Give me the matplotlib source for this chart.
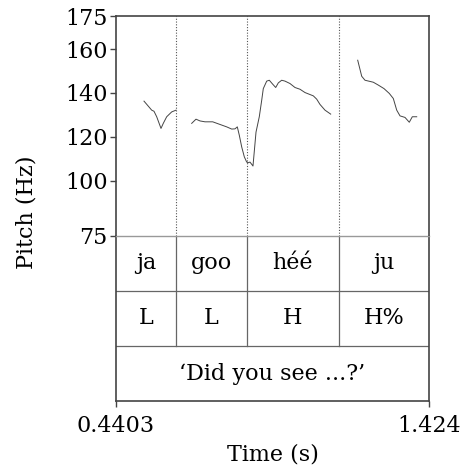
import matplotlib
matplotlib.use("Agg")
import matplotlib.pyplot as plt

plt.rcParams["font.family"] = ["DejaVu Serif"]
plt.rcParams["font.size"] = 16

# time range and pitch range
t_start, t_end = 0.4403, 1.424
f_min, f_max = 75, 175
y_ticks = [75, 100, 120, 140, 160, 175]

# pitch contour, split where the tracker lost voicing
seg1_t = [0.5283, 0.5525, 0.5597, 0.5682, 0.5817, 0.5889, 0.5996, 0.6153, 0.6289]
seg1_f = [136.3, 132.2, 131.7, 129.2, 123.9, 126.2, 129.2, 131.4, 132.2]

seg2_t = [0.6782, 0.6917, 0.7043, 0.7200, 0.7442, 0.7671, 0.7882, 0.8039, 0.8143,
          0.8215, 0.8278, 0.8353, 0.8435, 0.8510, 0.8561, 0.8614, 0.8708, 0.8803,
          0.8906, 0.8982, 0.9032, 0.9139, 0.9221, 0.9328, 0.9422, 0.9504, 0.9610,
          0.9714, 0.9871, 1.0028, 1.0186, 1.0343, 1.0604, 1.0710, 1.0814, 1.0971,
          1.1150]
seg2_f = [126.2, 128.1, 127.3, 126.9, 126.9, 125.7, 124.6, 123.6, 123.7,
          124.6, 120.8, 115.5, 111.0, 108.6, 108.3, 108.6, 106.8, 122.2,
          129.2, 136.7, 142.0, 145.4, 145.8, 144.0, 142.5, 144.6, 145.8,
          145.4, 144.3, 142.5, 141.7, 140.2, 138.7, 137.2, 134.8, 132.2,
          130.4]

seg3_t = [1.1999, 1.2125, 1.2228, 1.2489, 1.2646, 1.2825, 1.2992, 1.3118, 1.3225,
          1.3328, 1.3485, 1.3620, 1.3715, 1.3853]
seg3_f = [154.9, 147.6, 145.8, 144.9, 143.6, 142.0, 139.8, 137.5, 132.2,
          129.6, 128.9, 126.7, 129.2, 129.2]

# annotation tiers
bounds = [0.6289, 0.852, 1.141]
words = ["ja", "goo", "héé", "ju"]
tones = ["L", "L", "H", "H%"]
gloss = "‘Did you see ...?’"

frame = "#444444"

fig = plt.figure(figsize=(4.64, 4.71), dpi=100)
ax = fig.add_axes([0.25, 0.499, 0.6746, 0.467])
tx = fig.add_axes([0.25, 0.1486, 0.6746, 0.3504], sharex=ax)

for ts, fs in [(seg1_t, seg1_f), (seg2_t, seg2_f), (seg3_t, seg3_f)]:
    ax.plot(ts, fs, color="#444444", lw=0.7)
for b in bounds:
    ax.axvline(b, color="#555555", lw=0.8, ls=(0, (1, 1.5)))

ax.set_xlim(t_start, t_end)
ax.set_ylim(f_min, f_max)
ax.set_yticks(y_ticks)
ax.tick_params(axis="y", direction="out", length=4, width=1, color=frame, pad=2)
ax.tick_params(axis="x", bottom=False, labelbottom=False)
ax.set_ylabel("Pitch (Hz)")
ax.yaxis.set_label_coords(-0.25, 0.11)
for side in ["left", "top", "right"]:
    ax.spines[side].set_color(frame)
    ax.spines[side].set_linewidth(1.2)
ax.spines["bottom"].set_visible(False)

# tiers: 0 = gloss, 1 = tones, 2 = words
tx.set_ylim(0, 3)
tx.axhline(1, color="#666666", lw=0.9)
tx.axhline(2, color="#666666", lw=0.9)
for b in bounds:
    tx.plot([b, b], [1, 3], color="#666666", lw=0.9)
edges = [t_start] + bounds + [t_end]
for i in range(len(words)):
    mid = (edges[i] + edges[i + 1]) / 2
    tx.text(mid, 2.5, words[i], ha="center", va="center")
    tx.text(mid, 1.5, tones[i], ha="center", va="center")
tx.text((t_start + t_end) / 2, 0.5, gloss, ha="center", va="center")

tx.set_yticks([])
tx.set_xticks([t_start, t_end])
tx.set_xticklabels(["0.4403", "1.424"])
tx.tick_params(axis="x", direction="out", length=4, width=1, color=frame, pad=6)
tx.set_xlabel("Time (s)", labelpad=5)
for side in ["left", "bottom", "right"]:
    tx.spines[side].set_color(frame)
    tx.spines[side].set_linewidth(1.2)
tx.spines["top"].set_color("#999999")
tx.spines["top"].set_linewidth(1.0)

fig.savefig("out.png", dpi=100)
